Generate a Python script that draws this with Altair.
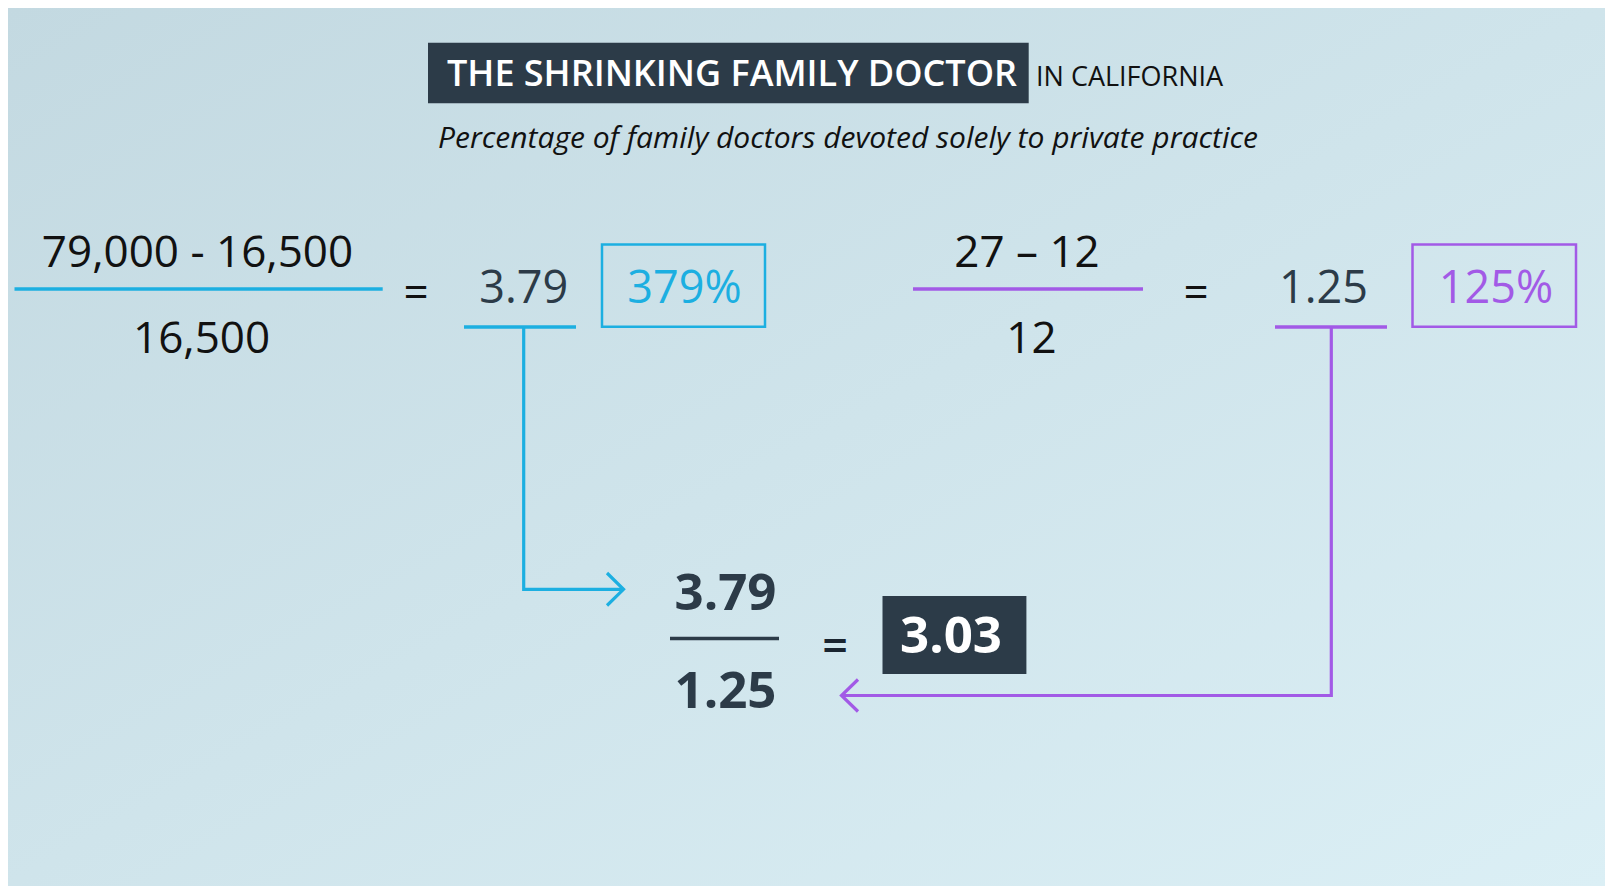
import altair as alt
import pandas as pd

# ---------------- values shown in the graphic ----------------
title_main = "THE SHRINKING FAMILY DOCTOR"
title_tail = "IN CALIFORNIA"
subtitle = "Percentage of family doctors devoted solely to private practice"
numerators = ["79,000 - 16,500", "27 \u2013 12"]
denominators = ["16,500", "12"]
ratios = ["3.79", "1.25"]
percents = ["379%", "125%"]
final_num = ratios[0]
final_den = ratios[1]
result = "3.03"

# ---------------- palette ----------------
BLUE = "#1cafe1"
PURPLE = "#a25ae6"
DARK = "#2c3b48"
INK = "#111111"

# ---------------- layout (page pixel positions) ----------------
W, H = 1597, 878
xs = alt.Scale(domain=[8, 8 + W], range=[0, W], nice=False, zero=False)
ys = alt.Scale(domain=[8, 8 + H], range=[0, H], nice=False, zero=False)
X = lambda f: alt.X(f"{f}:Q", scale=xs, axis=None)
Y = lambda f: alt.Y(f"{f}:Q", scale=ys, axis=None)
X2 = lambda f: alt.X2(f"{f}:Q")
Y2 = lambda f: alt.Y2(f"{f}:Q")

# background gradient
bg = alt.Chart(pd.DataFrame({"a": [0]})).mark_rect(
    color=alt.Gradient(
        gradient="linear",
        stops=[alt.GradientStop(color="#c3d9e1", offset=0),
               alt.GradientStop(color="#cfe4eb", offset=0.5),
               alt.GradientStop(color="#dbeff5", offset=1)],
        x1=0, y1=0, x2=1, y2=1)
).encode(x=alt.value(0), x2=alt.value(W), y=alt.value(0), y2=alt.value(H))

# filled dark boxes (title, result)
filled = pd.DataFrame({
    "x": [428, 882.5], "x2": [1028.7, 1026.4],
    "y": [42.7, 596], "y2": [103.3, 674],
})
filled_layer = alt.Chart(filled).mark_rect(color=DARK).encode(
    x=X("x"), x2=X2("x2"), y=Y("y"), y2=Y2("y2"))

# outlined percent boxes
boxes = pd.DataFrame({
    "x": [602, 1412.5], "x2": [765, 1576],
    "y": [244.5, 244.5], "y2": [326.7, 326.7],
    "c": [BLUE, PURPLE],
})
box_layer = alt.Chart(boxes).mark_rect(fillOpacity=0, strokeWidth=2.5).encode(
    x=X("x"), x2=X2("x2"), y=Y("y"), y2=Y2("y2"),
    stroke=alt.Stroke("c:N", scale=None))

# straight rules: fraction bars and underlines
rules = pd.DataFrame({
    "x": [14.5, 913, 464, 1275, 670],
    "x2": [382.7, 1143, 576, 1387, 779],
    "y": [289, 289, 327, 327, 638.5],
    "c": [BLUE, PURPLE, BLUE, PURPLE, DARK],
})
rule_layer = alt.Chart(rules).mark_rule(strokeWidth=3.5).encode(
    x=X("x"), x2=X2("x2"), y=Y("y"),
    color=alt.Color("c:N", scale=None))

# connector paths and arrow heads
paths = pd.DataFrame({
    "p": ["b1"] * 3 + ["b2"] * 3 + ["p1"] * 3 + ["p2"] * 3,
    "i": [0, 1, 2] * 4,
    "x": [523.7, 523.7, 623, 607, 623.5, 607,
          1331.3, 1331.3, 841, 858, 841.5, 858],
    "y": [327, 589.3, 589.3, 573, 589.3, 605.5,
          327, 695.5, 695.5, 679.5, 695.5, 711.5],
    "c": [BLUE] * 6 + [PURPLE] * 6,
})
path_layer = alt.Chart(paths).mark_line(strokeWidth=3.2, strokeJoin="miter", strokeCap="butt").encode(
    x=X("x"), y=Y("y"), detail="p:N", order="i:Q",
    color=alt.Color("c:N", scale=None))


def text_layer(df, size, weight="normal", style="normal", align="center"):
    return alt.Chart(df).mark_text(
        font="Open Sans", fontSize=size, fontWeight=weight, fontStyle=style,
        align=align, baseline="alphabetic"
    ).encode(x=X("x"), y=Y("y"), text="t:N", color=alt.Color("c:N", scale=None))


t_title = text_layer(pd.DataFrame({"t": [title_main], "x": [732], "y": [86], "c": ["#ffffff"]}), 36, weight=600)
t_tail = text_layer(pd.DataFrame({"t": [title_tail], "x": [1036], "y": [85.5], "c": [INK]}), 27, align="left")
t_sub = text_layer(pd.DataFrame({"t": [subtitle], "x": [848], "y": [148], "c": [INK]}), 30, style="italic")

top_ink = pd.DataFrame({
    "t": numerators + denominators + ["=", "="],
    "x": [197.5, 1027, 201.6, 1031.5, 416, 1196],
    "y": [267, 267, 353, 353, 308, 308],
    "c": [INK] * 6,
})
t_top = text_layer(top_ink, 44)

mid = pd.DataFrame({
    "t": ratios + percents,
    "x": [523.8, 1323.5, 684.5, 1496],
    "y": [303, 303, 303, 303],
    "c": [DARK, DARK, BLUE, PURPLE],
})
t_mid = text_layer(mid, 45)

bottom = pd.DataFrame({
    "t": [final_num, final_den, result],
    "x": [725.5, 725.5, 951],
    "y": [610, 708, 653],
    "c": [DARK, DARK, "#ffffff"],
})
t_bottom = text_layer(bottom, 51, weight="bold")
t_eq = text_layer(pd.DataFrame({"t": ["="], "x": [835], "y": [662], "c": ["#1a2530"]}), 45, weight=600)

chart = alt.layer(
    bg, filled_layer, box_layer, rule_layer, path_layer,
    t_title, t_tail, t_sub, t_top, t_mid, t_bottom, t_eq
).properties(
    width=W, height=H, padding=0, autosize=alt.AutoSizeParams(type="none"),
    background="#cfe4eb"
).configure_view(strokeWidth=0)

chart.save("out.html", embed_options={"renderer": "svg", "actions": False})
